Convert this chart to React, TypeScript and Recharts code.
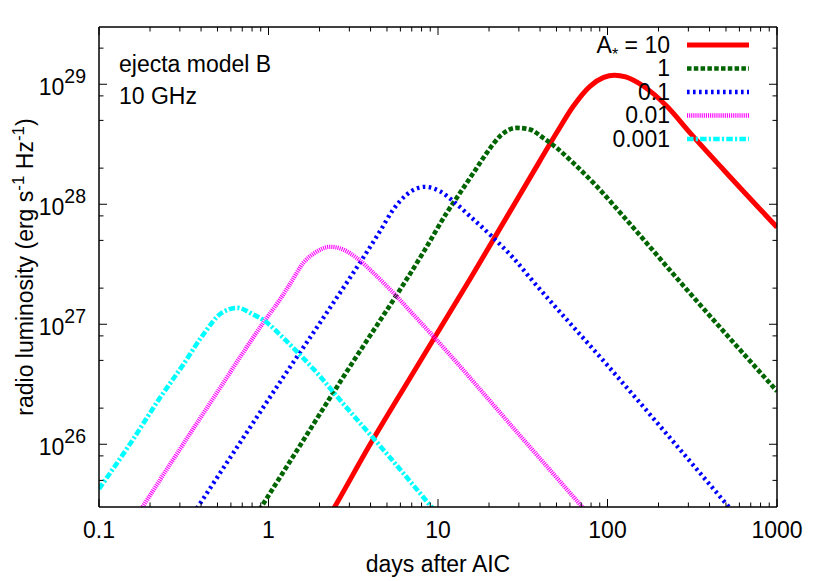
import { LineChart, Line, XAxis, YAxis } from "recharts"

// light curves: [days after AIC, radio luminosity]
const A10: [number, number][] = [
  [2.2, 2.29e25], [2.47, 3.04e25], [3.97, 9.94e25], [6.84, 3.57e26], [15.4, 2.36e27],
  [40, 2.31e28], [50.1, 3.94e28], [62.8, 6.56e28], [78.8, 9.62e28], [95, 1.14e29],
  [110, 1.19e29], [128, 1.15e29], [163, 9.62e28], [224, 6.56e28], [307, 3.94e28],
  [482, 1.95e28], [1000, 6.43e27],
]
const A1: [number, number][] = [
  [0.8, 2.27e25], [0.912, 3.04e25], [2.7, 3.46e26], [8.38, 4.19e27], [11.25, 8.47e27],
  [13.5, 1.245e28], [16.2, 1.83e28], [19.4, 2.68e28], [23.2, 3.69e28], [29.1, 4.33e28],
  [34.9, 4.19e28], [41.8, 3.57e28], [50.1, 2.95e28], [62.8, 2.21e28], [86.4, 1.41e28],
  [124, 7.94e27], [293, 1.95e27], [1000, 2.77e26],
]
const A01: [number, number][] = [
  [0.33, 2.18e25], [0.385, 3.04e25], [0.679, 1.03e26], [1.196, 3.46e26], [2.154, 1.186e27],
  [4.548, 5.96e27], [5.449, 9.04e27], [6.536, 1.205e28], [8.381, 1.397e28], [10.27, 1.283e28],
  [12.31, 1.06e28], [15.45, 7.94e27], [21.2, 5.25e27], [27.8, 3.57e27], [34.9, 2.44e27],
  [100, 4.54e26], [600, 2.36e25],
]
const A001: [number, number][] = [
  [0.15, 2.0e25], [0.495, 2.68e26], [0.932, 1.03e27], [1.169, 1.61e27], [1.37, 2.28e27],
  [1.604, 3.25e27], [1.88, 3.94e27], [2.306, 4.42e27], [2.763, 4.19e27], [3.314, 3.57e27],
  [4.153, 2.68e27], [5.449, 1.83e27], [7.149, 1.205e27], [9.38, 7.94e26], [30, 1.21e26],
  [85, 2.24e25],
]
const A0001: [number, number][] = [
  [0.1, 4.25e25], [0.152, 1.0e26], [0.229, 2.44e26], [0.314, 4.61e26], [0.412, 8.2e26],
  [0.53, 1.245e27], [0.655, 1.37e27], [0.813, 1.205e27], [0.954, 1.06e27], [1.22, 7.7e26],
  [1.53, 5.59e26], [2.01, 3.69e26], [2.53, 2.51e26], [5, 8.3e25], [10, 2.58e25],
]

const seriesNames = ["10", "1", "0.1", "0.01", "0.001"]
const seriesData = [A10, A1, A01, A001, A0001]
const seriesColors = ["#ff0000", "#006400", "#0000ff", "#ff00ff", "#00ffff"]
const seriesDash = ["", "4.5 2.3", "2.6 3.4", "1.1 1", "6.5 2.2 2.2 2.2"]
const seriesWidth = [5, 4.6, 4.3, 4.3, 4.6]

const xMajor = [0.1, 1, 10, 100, 1000]
const xMajorLabels = ["0.1", "1", "10", "100", "1000"]
const yMajor = [1e26, 1e27, 1e28, 1e29]
const yMajorExp = ["26", "27", "28", "29"]
const xMinorMult = [2, 3, 4, 5, 6, 7, 8, 9]
const yMinorMult = [2, 5, 8]

const xTicks = [...xMajor, ...xMajor.slice(0, 4).flatMap((d) => xMinorMult.map((m) => m * d))]
const yTicks = [...yMajor, ...[1e25, ...yMajor].flatMap((d) => yMinorMult.map((m) => m * d)).filter((v) => v > 3e25 && v < 3e29)]

const FONT = '"Liberation Sans", Arial, Helvetica, sans-serif'
const majorIndex = (list: number[], v: number) => list.findIndex((m) => Math.abs(v / m - 1) < 1e-6)

function BottomTick({ x, y, payload }: any) {
  const i = majorIndex(xMajor, payload.value)
  return (
    <g>
      <line x1={x} x2={x} y1={y} y2={y - (i >= 0 ? 8 : 4.5)} stroke="#000" strokeWidth={1} />
      {i >= 0 && (
        <text x={x} y={y + 31} textAnchor="middle" fontSize={23} fontFamily={FONT} fill="#000">
          {xMajorLabels[i]}
        </text>
      )}
    </g>
  )
}

function TopTick({ x, y, payload }: any) {
  const i = majorIndex(xMajor, payload.value)
  return <line x1={x} x2={x} y1={y} y2={y + (i >= 0 ? 8 : 4.5)} stroke="#000" strokeWidth={1} />
}

function LeftTick({ x, y, payload }: any) {
  const i = majorIndex(yMajor, payload.value)
  return (
    <g>
      <line x1={x} x2={x + (i >= 0 ? 8 : 4.5)} y1={y} y2={y} stroke="#000" strokeWidth={1} />
      {i >= 0 && (
        <text x={x - 13} y={y + 10.5} textAnchor="end" fontSize={23} fontFamily={FONT} fill="#000">
          10<tspan dy={-12.2} fontSize={19.5}>{yMajorExp[i]}</tspan>
        </text>
      )}
    </g>
  )
}

function RightTick({ x, y, payload }: any) {
  const i = majorIndex(yMajor, payload.value)
  return <line x1={x} x2={x - (i >= 0 ? 8 : 4.5)} y1={y} y2={y} stroke="#000" strokeWidth={1} />
}

const axisLine = { stroke: "#000", strokeWidth: 1.5 }

export default function App() {
  return (
    <div style={{ position: "absolute", left: 0, top: 0, width: 830, height: 581, background: "#fff" }}>
      <LineChart width={830} height={581} margin={{ top: 0, right: 0, bottom: 0, left: 0 }}>
        <XAxis
          xAxisId="b"
          dataKey="t"
          type="number"
          scale="log"
          domain={[0.1, 1000]}
          allowDataOverflow
          ticks={xTicks}
          interval={0}
          height={74}
          tickSize={0}
          tickMargin={0}
          tickLine={false}
          axisLine={axisLine}
          tick={<BottomTick />}
        />
        <XAxis
          xAxisId="t"
          orientation="top"
          dataKey="t"
          type="number"
          scale="log"
          domain={[0.1, 1000]}
          allowDataOverflow
          ticks={xTicks}
          interval={0}
          height={27}
          tickSize={0}
          tickMargin={0}
          tickLine={false}
          axisLine={axisLine}
          tick={<TopTick />}
        />
        <YAxis
          yAxisId="l"
          type="number"
          scale="log"
          domain={[3e25, 3e29]}
          allowDataOverflow
          ticks={yTicks}
          interval={0}
          width={99}
          tickSize={0}
          tickMargin={0}
          tickLine={false}
          axisLine={axisLine}
          tick={<LeftTick />}
        />
        <YAxis
          yAxisId="r"
          orientation="right"
          type="number"
          scale="log"
          domain={[3e25, 3e29]}
          allowDataOverflow
          ticks={yTicks}
          interval={0}
          width={53}
          tickSize={0}
          tickMargin={0}
          tickLine={false}
          axisLine={axisLine}
          tick={<RightTick />}
        />
        {seriesData.map((d, i) => (
          <Line
            key={seriesNames[i]}
            xAxisId="b"
            yAxisId="l"
            data={d.map(([t, L]) => ({ t, L }))}
            dataKey="L"
            type="monotone"
            stroke={seriesColors[i]}
            strokeWidth={seriesWidth[i]}
            strokeDasharray={seriesDash[i] || undefined}
            strokeLinejoin="round"
            dot={false}
            activeDot={false}
            isAnimationActive={false}
          />
        ))}
      </LineChart>

      <svg
        width={830}
        height={581}
        style={{ position: "absolute", left: 0, top: 0, pointerEvents: "none" }}
        fontFamily={FONT}
        fontSize={23}
        fill="#000"
      >
        <text x={119} y={72}>ejecta model B</text>
        <text x={119} y={104}>10 GHz</text>

        {seriesNames.map((name, i) => {
          const base = 52.5 + 23.5 * i
          return (
            <g key={name}>
              <text x={670} y={base} textAnchor="end">
                {i === 0 ? (
                  <>
                    A<tspan dy={7} fontSize={16}>*</tspan>
                    <tspan dy={-7}> = {name}</tspan>
                  </>
                ) : (
                  name
                )}
              </text>
              <line
                x1={687}
                x2={749}
                y1={base - 7.5}
                y2={base - 7.5}
                stroke={seriesColors[i]}
                strokeWidth={seriesWidth[i]}
                strokeDasharray={seriesDash[i] || undefined}
              />
            </g>
          )
        })}

        <text x={438} y={572} textAnchor="middle">days after AIC</text>
        <text x={33} y={267} textAnchor="middle" transform="rotate(-90, 33, 267)">
          radio luminosity (erg s<tspan dy={-9} fontSize={17}>-1</tspan>
          <tspan dy={9}> Hz</tspan>
          <tspan dy={-9} fontSize={17}>-1</tspan>
          <tspan dy={9}>)</tspan>
        </text>
      </svg>
    </div>
  )
}
